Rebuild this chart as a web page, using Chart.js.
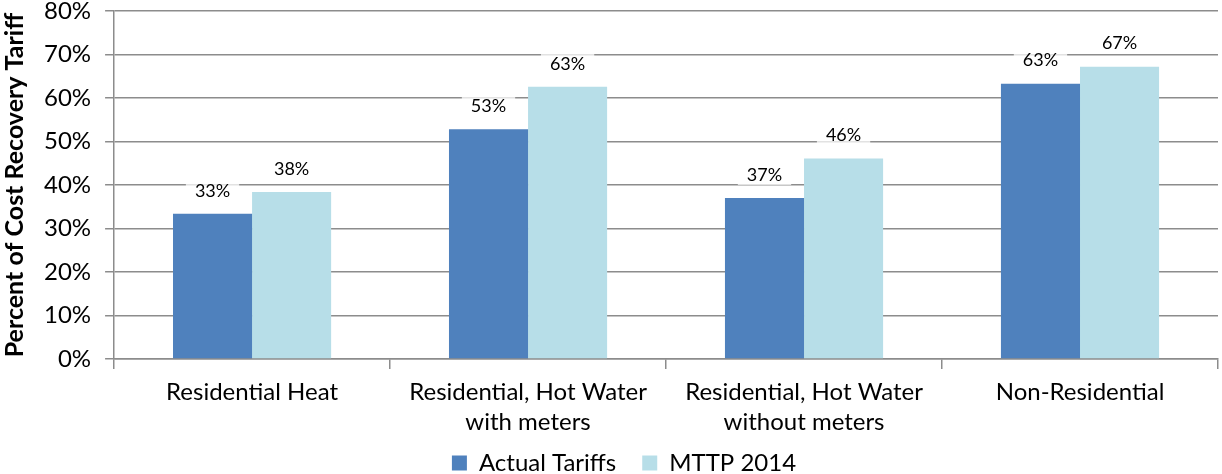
<!DOCTYPE html>
<html>
<head>
<meta charset="utf-8">
<script src="https://cdn.jsdelivr.net/npm/chart.js@4.4.0/dist/chart.umd.min.js"></script>
<style>
  body { margin: 0; background: #fff; }
  #wrap { width: 1222px; height: 474px; }
</style>
</head>
<body>
<div id="wrap"><canvas id="tariffChart"></canvas></div>
<script>
const categories = [
  'Residential Heat',
  ['Residential, Hot Water', 'with meters'],
  ['Residential, Hot Water', 'without meters'],
  'Non-Residential'
];
const actualTariffs = [33.4, 52.8, 37.0, 63.3];
const mttp2014 = [38.4, 62.6, 46.1, 67.2];
const yTicks = [0, 10, 20, 30, 40, 50, 60, 70, 80];

// value labels above bars, with a faint white box behind like the original
const barLabels = {
  id: 'barLabels',
  afterLayout(chart) {
    // x axis was shrunk so the legend sits closer, give labels their room back for drawing
    chart.scales.x.bottom += 20;
    // legend sits a bit right of centre in the original
    chart.legend.left += 30;
  },
  afterDatasetsDraw(chart) {
    const ctx = chart.ctx;
    ctx.save();
    ctx.font = '18px Lato';
    ctx.textAlign = 'center';
    ctx.textBaseline = 'middle';
    chart.data.datasets.forEach((ds, i) => {
      chart.getDatasetMeta(i).data.forEach((bar, j) => {
        const txt = Math.round(ds.data[j]) + '%';
        const w = ctx.measureText(txt).width;
        const y = bar.y - 23;
        ctx.fillStyle = 'rgba(255,255,255,0.75)';
        ctx.fillRect(bar.x - w / 2 - 9, y - 10, w + 18, 20);
        ctx.fillStyle = '#000';
        ctx.fillText(txt, bar.x, y);
      });
    });
    ctx.restore();
  }
};

new Chart(document.getElementById('tariffChart'), {
  type: 'bar',
  data: {
    labels: categories,
    datasets: [
      { label: 'Actual Tariffs', data: actualTariffs, backgroundColor: '#4F81BD' },
      { label: 'MTTP 2014', data: mttp2014, backgroundColor: '#B7DEE8' }
    ]
  },
  options: {
    responsive: true,
    maintainAspectRatio: false,
    animation: false,
    categoryPercentage: 0.573,
    barPercentage: 1,
    layout: { padding: { top: 0, right: 4, left: 0, bottom: -11 } },
    scales: {
      y: {
        min: 0, max: 80,
        afterBuildTicks: axis => { axis.ticks = yTicks.map(v => ({ value: v })); },
        // tick padding also pads the top in v4, pull the 80% line up
        afterFit: axis => { axis.paddingTop = 11; },
        ticks: {
          color: '#000',
          font: { family: 'Lato', size: 24 },
          padding: 14,
          callback: v => v + '%'
        },
        grid: { color: '#8c8c8c', lineWidth: 1.5, tickLength: 9 },
        border: { color: '#8c8c8c', width: 1.5 },
        title: {
          display: true,
          text: 'Percent of Cost Recovery Tariff',
          color: '#000',
          font: { family: 'Lato', size: 25, weight: 'bold' },
          padding: { top: 0, bottom: 0 }
        }
      },
      x: {
        offset: true,
        afterFit: axis => { axis.height -= 20; },
        ticks: {
          color: '#000',
          font: { family: 'Lato', size: 24, lineHeight: 1.25 },
          padding: 8,
          maxRotation: 0
        },
        grid: { offset: true, drawOnChartArea: false, color: '#8c8c8c', lineWidth: 1.5, tickLength: 10 },
        border: { color: '#8c8c8c', width: 1.5 }
      }
    },
    plugins: {
      legend: {
        position: 'bottom',
        labels: {
          color: '#000',
          font: { family: 'Lato', size: 24 },
          boxWidth: 15,
          boxHeight: 15,
          padding: 26
        }
      },
      tooltip: { enabled: false }
    }
  },
  plugins: [barLabels]
});
</script>
</body>
</html>
